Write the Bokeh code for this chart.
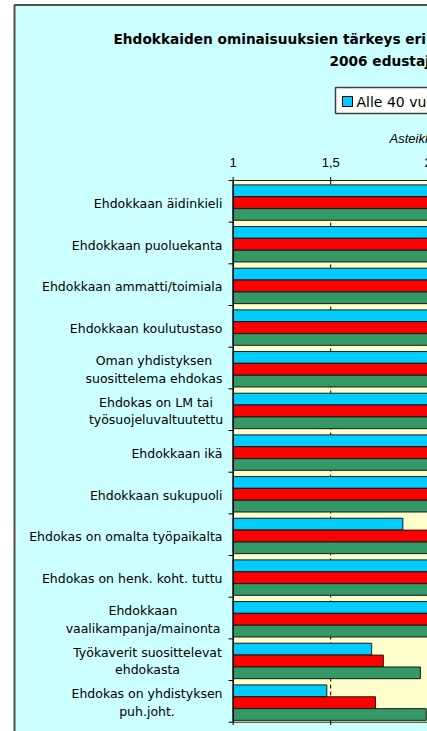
from bokeh.plotting import figure
from bokeh.models import ColumnDataSource, Range1d
from bokeh.core.properties import value
from bokeh.embed import file_html
from bokeh.resources import INLINE

# ---------------- data ----------------
categories = [
    "Ehdokkaan äidinkieli",
    "Ehdokkaan puoluekanta",
    "Ehdokkaan ammatti/toimiala",
    "Ehdokkaan koulutustaso",
    "Oman yhdistyksen\nsuosittelema ehdokas",
    "Ehdokas on LM tai\ntyösuojeluvaltuutettu",
    "Ehdokkaan ikä",
    "Ehdokkaan sukupuoli",
    "Ehdokas on omalta työpaikalta",
    "Ehdokas on henk. koht. tuttu",
    "Ehdokkaan\nvaalikampanja/mainonta",
    "Työkaverit suosittelevat\nehdokasta",
    "Ehdokas on yhdistyksen\npuh.joht.",
]
series_names = ["Alle 40 vuotiaat", "40–50 vuotiaat", "Yli 50 vuotiaat"]
alle_40 = [3.40, 3.20, 3.00, 2.80, 2.60, 2.50, 2.50, 2.30, 1.87, 2.10, 2.10, 1.71, 1.48]
v_40_50 = [3.20, 3.00, 2.90, 2.70, 2.70, 2.60, 2.40, 2.20, 2.20, 2.20, 2.05, 1.77, 1.73]
yli_50 = [3.50, 3.30, 3.10, 2.90, 2.90, 2.80, 2.50, 2.40, 2.40, 2.30, 2.20, 1.96, 1.99]
x_ticks = [1, 1.5, 2]
x_tick_labels = ["1", "1,5", "2"]
x_max = 4
title_lines = ["Ehdokkaiden ominaisuuksien tärkeys eri ikäryhmissä",
               "2006 edustajistovaaleissa"]
scale_note = "Asteikko: 1 = ei lainkaan tärkeä, 4 = erittäin tärkeä"

# ---------------- layout / style ----------------
W, H = 427, 731
OFF = 0                 # page offset of the canvas
X_AT_1 = 232.7          # page px of value 1
PX_PER_UNIT = 195.0     # px per value unit
PLOT_TOP = 180.0        # page px of top of plot area
ROW_PX = 41.67          # px per category

x0 = 1 - (X_AT_1 - OFF) / PX_PER_UNIT
y0 = -(PLOT_TOP - OFF) / ROW_PX


def X(px):
    return x0 + (px - OFF) / PX_PER_UNIT


def Y(py):
    return y0 + (py - OFF) / ROW_PX


N = len(categories)
colors = ["#00CCFF", "#FF0000", "#339966"]
series = [alle_40, v_40_50, yli_50]
BAR_H = 0.28
BAR_STEP = 0.285
GROUP_CENTER = 0.53

multi_centers = {  # page x centre of two-line labels
    "Oman yhdistyksen\nsuosittelema ehdokas": 153.5,
    "Ehdokas on LM tai\ntyösuojeluvaltuutettu": 155.5,
    "Ehdokkaan\nvaalikampanja/mainonta": 142.5,
    "Työkaverit suosittelevat\nehdokasta": 147.0,
    "Ehdokas on yhdistyksen\npuh.joht.": 146.5,
}

p = figure(width=W, height=H,
           x_range=Range1d(X(OFF), X(OFF + W)),
           y_range=Range1d(Y(OFF + H), Y(OFF)),
           output_backend="svg", toolbar_location=None,
           x_axis_location=None, y_axis_location=None,
           min_border=0, outline_line_color=None,
           background_fill_color="white", border_fill_color="white")
p.grid.visible = False

# chart area (cyan) with border
p.quad(left=[X(14)], right=[X(3000)], top=[Y(4.5)], bottom=[Y(3000)],
       fill_color="#CCFFFF", line_color="#505050", line_width=2)

# plot area
p.quad(left=[x_ticks[0]], right=[x_max], top=[0], bottom=[N],
       fill_color="#FFFFCC", line_color="#202020", line_width=1)

# gridlines
p.segment(x0=x_ticks[1:], y0=[0] * (len(x_ticks) - 1),
          x1=x_ticks[1:], y1=[N] * (len(x_ticks) - 1),
          line_color="black", line_width=1, line_dash="4 3")

# bars
for k, (vals, col) in enumerate(zip(series, colors)):
    ys = [i + GROUP_CENTER + (k - 1) * BAR_STEP for i in range(N)]
    src = ColumnDataSource(dict(y=ys, right=vals, left=[x_ticks[0]] * N))
    p.hbar(y="y", left="left", right="right", height=BAR_H, source=src,
           fill_color=col, line_color="#1a1a1a", line_width=1)

# axes lines and ticks
p.segment(x0=[x_ticks[0]], y0=[0], x1=[x_ticks[0]], y1=[N],
          line_color="black", line_width=1.3)
p.segment(x0=[X(228)] * (N + 1), y0=list(range(N + 1)),
          x1=[x_ticks[0]] * (N + 1), y1=list(range(N + 1)),
          line_color="black", line_width=1)
p.segment(x0=x_ticks, y0=[Y(176.5)] * len(x_ticks),
          x1=x_ticks, y1=[0] * len(x_ticks), line_color="black", line_width=1)
p.segment(x0=x_ticks, y0=[N] * len(x_ticks),
          x1=x_ticks, y1=[Y(724.5)] * len(x_ticks), line_color="black", line_width=1)

# tick labels
p.text(x=x_ticks, y=[Y(161.5)] * len(x_ticks), text=x_tick_labels,
       text_align="center", text_baseline="middle",
       text_font=value("Liberation Sans"), text_font_size="13px", text_color="black")

# category labels
single = [(c, i) for i, c in enumerate(categories) if "\n" not in c]
multi = [(c, i) for i, c in enumerate(categories) if "\n" in c]
p.text(x=[X(222)] * len(single), y=[i + 0.55 for _, i in single],
       text=[c for c, _ in single], text_align="right", text_baseline="middle",
       text_font=value("DejaVu Sans"), text_font_size="12.5px", text_color="black")
p.text(x=[X(multi_centers[c]) for c, _ in multi], y=[i + 0.53 for _, i in multi],
       text=[c for c, _ in multi], text_align="center", text_baseline="middle",
       text_line_height=1.18,
       text_font=value("DejaVu Sans"), text_font_size="12.5px", text_color="black")

# title
p.text(x=[X(113)], y=[Y(38.5)], text=[title_lines[0]], text_align="left",
       text_baseline="alphabetic", text_font=value("DejaVu Sans"),
       text_font_style="bold", text_font_size="13.7px", text_color="black")
p.text(x=[X(329)], y=[Y(60.5)], text=[title_lines[1]], text_align="left",
       text_baseline="alphabetic", text_font=value("DejaVu Sans"),
       text_font_style="bold", text_font_size="13.7px", text_color="black")

# legend (only the first entry falls inside the visible window)
p.quad(left=[X(335)], right=[X(900)], top=[Y(87)], bottom=[Y(113)],
       fill_color="white", line_color="#404040", line_width=1.5)
p.quad(left=[X(342)], right=[X(352)], top=[Y(96)], bottom=[Y(106)],
       fill_color=colors[0], line_color="black", line_width=1)
p.text(x=[X(356)], y=[Y(101)], text=[series_names[0]],
       text_align="left", text_baseline="middle",
       text_font=value("DejaVu Sans"), text_font_size="14px", text_color="black")

# scale note
p.text(x=[X(389)], y=[Y(138)], text=[scale_note], text_align="left",
       text_baseline="middle", text_font=value("Liberation Sans"),
       text_font_style="italic", text_font_size="13px", text_color="black")

open("out.html", "w").write(file_html(p, INLINE))
